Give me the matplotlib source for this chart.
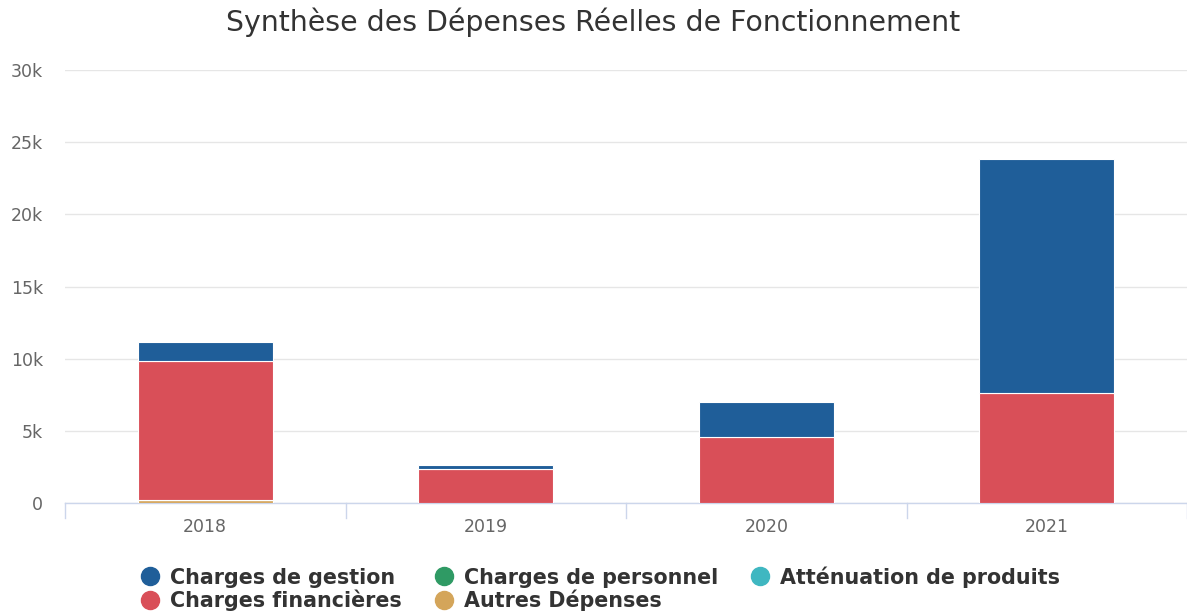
import matplotlib
matplotlib.use("Agg")
import matplotlib.pyplot as plt
from matplotlib.lines import Line2D
import numpy as np

plt.rcParams["font.family"] = ["DejaVu Sans"]

years = ["2018", "2019", "2020", "2021"]
charges_gestion = [1320, 300, 2420, 16220]
charges_personnel = [0, 0, 0, 0]
attenuation_produits = [0, 0, 0, 0]
charges_financieres = [9640, 2340, 4600, 7600]
autres_depenses = [200, 0, 0, 0]
ytick_values = [0, 5000, 10000, 15000, 20000, 25000, 30000]
ytick_labels = ["0", "5k", "10k", "15k", "20k", "25k", "30k"]

c_gestion = "#1f5e99"
c_personnel = "#2f9a64"
c_attenuation = "#3fb7c1"
c_financieres = "#d94f58"
c_autres = "#d4a55a"

W, H = 1187, 611
fig = plt.figure(figsize=(W / 100, H / 100), dpi=100)
ax = fig.add_axes([65 / W, (H - 503) / H, (1187 - 65) / W, (503 - 70) / H])

x = np.arange(len(years))
bw = 0.48
series = [
    (autres_depenses, c_autres),
    (attenuation_produits, c_attenuation),
    (charges_personnel, c_personnel),
    (charges_financieres, c_financieres),
    (charges_gestion, c_gestion),
]
bottom = np.zeros(len(years))
for vals, col in series:
    v = np.array(vals, dtype=float)
    ax.bar(x, v, bw, bottom=bottom, color=col, edgecolor="white", linewidth=0.8, zorder=3)
    bottom += v

ax.set_xlim(-0.5, len(years) - 0.5)
ax.set_ylim(0, 30000)
ax.set_yticks(ytick_values)
ax.set_yticklabels(ytick_labels)
ax.set_xticks(x)
ax.set_xticklabels(years)
ax.yaxis.grid(True, color="#e6e6e6", linewidth=1, zorder=0)
ax.set_axisbelow(True)
for s in ["top", "right", "left"]:
    ax.spines[s].set_visible(False)
ax.spines["bottom"].set_color("#ccd6eb")
ax.spines["bottom"].set_linewidth(1)
ax.tick_params(axis="y", length=0, pad=16, labelsize=12.5, labelcolor="#666666")
ax.tick_params(axis="x", length=0, pad=11, labelsize=12.5, labelcolor="#666666")
for b in np.arange(-0.5, len(years) + 0.5, 1.0):
    ax.plot([b, b], [0, -1050], color="#ccd6eb", linewidth=1, clip_on=False, zorder=2)

fig.text(0.5, 1 - 22 / H, "Synthèse des Dépenses Réelles de Fonctionnement",
         ha="center", va="center", fontsize=20.4, color="#333333")

labels = ["Charges de gestion", "Charges financières", "Charges de personnel",
          "Autres Dépenses", "Atténuation de produits"]
cols = [c_gestion, c_financieres, c_personnel, c_autres, c_attenuation]
handles = [Line2D([0], [0], marker="o", linestyle="", markersize=13,
                  markerfacecolor=c, markeredgecolor=c) for c in cols]
leg = fig.legend(handles, labels, ncol=3, loc="center",
                 bbox_to_anchor=(0.5 + 7 / W, 1 - 588.5 / H),
                 frameon=False, handletextpad=0.5, columnspacing=1.6, labelspacing=0.08,
                 handlelength=0.9, prop={"weight": "bold", "size": 14.9})
for t in leg.get_texts():
    t.set_color("#333333")

fig.savefig("out.png", dpi=100)
